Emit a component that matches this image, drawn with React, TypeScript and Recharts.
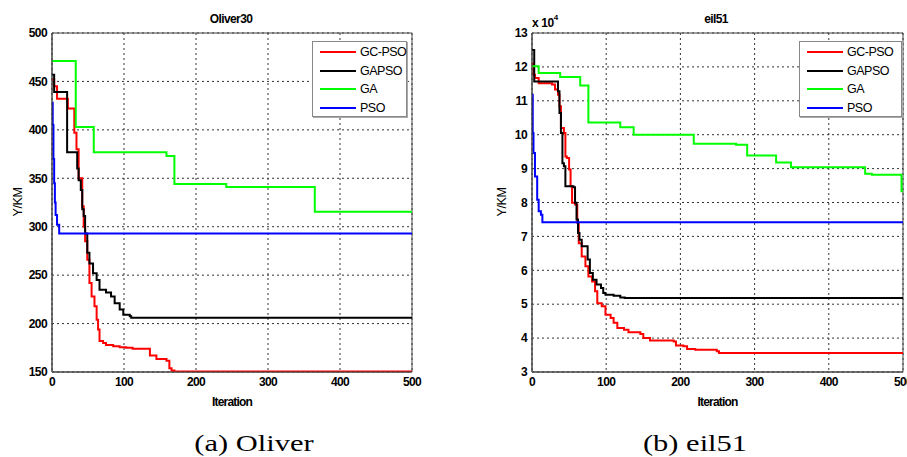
import {
  LineChart,
  Line,
  XAxis,
  YAxis,
  CartesianGrid,
  ReferenceArea,
  Legend,
  Label,
} from "recharts";

type Pt = [number, number];

// shared x axis (iterations)
const xTicks = [0, 100, 200, 300, 400, 500];

// (a) Oliver30, Y/KM
const oliverTicks = [150, 200, 250, 300, 350, 400, 450, 500];
const oliverGcPso: Pt[] = [
  [0, 452], [3, 445], [7, 432], [22, 422], [31, 397], [34, 380], [37, 350],
  [42, 321], [44, 300], [46, 285], [49, 266], [52, 242], [55, 228], [59, 218],
  [62, 204], [64, 194], [66, 182], [71, 180], [75, 178], [85, 176.5],
  [94, 175.5], [103, 175], [112, 174], [136, 167], [145, 163.5], [159, 161.7],
  [163, 154], [166, 151.5], [170, 150.5], [500, 150.5],
];
const oliverGapso: Pt[] = [
  [0, 457], [3, 439], [21, 377], [35, 360], [37, 348], [40, 338], [42, 318],
  [44, 311], [46, 293], [49, 273], [52, 262], [57, 252], [62, 245], [66, 235],
  [75, 232], [82, 228], [87, 221], [94, 214.5], [99, 209], [108, 207.5],
  [110, 206], [500, 206],
];
const oliverGa: Pt[] = [
  [0, 471], [33, 403], [58, 377], [159, 373], [170, 344], [242, 341],
  [365, 315.5], [500, 315.5],
];
const oliverPso: Pt[] = [
  [0, 428], [1, 405], [2, 370], [3, 345], [4, 325], [5, 312], [7, 302],
  [10, 293], [500, 293],
];

// (b) eil51, Y/KM in units of 10^4
const eilTicks = [3, 4, 5, 6, 7, 8, 9, 10, 11, 12, 13];
const eilGcPso: Pt[] = [
  [0, 12.1], [2, 11.77], [4, 11.67], [9, 11.52], [27, 11.48], [31, 11.33],
  [35, 11.18], [37, 10.84], [39, 10.2], [43, 10.05], [45, 9.36], [47, 9.31],
  [50, 8.97], [52, 8.48], [54, 7.99], [58, 7.94], [61, 7.4], [63, 6.8],
  [67, 6.41], [72, 6.12], [76, 5.82], [81, 5.67], [85, 5.38], [88, 5.03],
  [94, 4.94], [99, 4.69], [106, 4.59], [110, 4.45], [115, 4.3], [124, 4.25],
  [130, 4.17], [146, 4.12], [150, 4.0], [159, 3.93], [191, 3.9], [194, 3.78],
  [204, 3.76], [209, 3.68], [220, 3.66], [249, 3.61], [252, 3.56], [500, 3.56],
];
const eilGapso: Pt[] = [
  [0, 12.5], [3, 11.57], [35, 11.28], [37, 10.64], [39, 10.05], [41, 9.16],
  [43, 9.07], [45, 8.48], [56, 8.45], [58, 7.99], [60, 7.5], [62, 7.1],
  [64, 6.9], [67, 6.71], [75, 6.32], [78, 5.92], [82, 5.72], [87, 5.58],
  [93, 5.48], [96, 5.33], [99, 5.28], [110, 5.25], [119, 5.2], [125, 5.18],
  [500, 5.18],
];
const eilGa: Pt[] = [
  [0, 12.02], [9, 11.82], [38, 11.7], [65, 11.45], [76, 10.36], [119, 10.22],
  [137, 10.0], [218, 9.73], [275, 9.7], [290, 9.39], [329, 9.18], [349, 9.04],
  [449, 8.85], [458, 8.82], [498, 8.33], [500, 8.33],
];
const eilPso: Pt[] = [
  [0, 11.18], [1, 10.05], [2, 9.46], [4, 8.77], [7, 8.08], [9, 7.74],
  [12, 7.64], [14, 7.42], [500, 7.42],
];

const names = ["GC-PSO", "GAPSO", "GA", "PSO"];
const colors = ["#ff0000", "#000000", "#00ff00", "#0000ff"];

const SANS = '"Liberation Sans", Arial, sans-serif';
const tickStyle = {
  fontFamily: SANS,
  fontSize: 12,
  fontWeight: 700,
  letterSpacing: -0.6,
  fill: "#000",
};

const toRows = (pts: Pt[]) => pts.map(([x, y]) => ({ x, y }));

type LegendProps = { width: number; lineLen: number };

const LegendBox = ({ width, lineLen }: LegendProps) => (
  <div
    style={{
      width,
      height: 76,
      boxSizing: "border-box",
      border: "1px solid #888",
      boxShadow: "1px 1px 0 #aaa",
      background: "#fff",
      padding: "1px 0 0 7px",
      textAlign: "left",
    }}
  >
    {names.map((n, i) => (
      <div key={n} style={{ display: "flex", alignItems: "center", height: 18.5 }}>
        <div style={{ width: lineLen, height: 2, background: colors[i], marginRight: 4, flexShrink: 0 }} />
        <span
          style={{
            fontFamily: SANS,
            fontSize: 12.5,
            letterSpacing: -0.5,
            color: "#000",
            lineHeight: "18px",
            whiteSpace: "nowrap",
          }}
        >
          {n}
        </span>
      </div>
    ))}
  </div>
);

type PanelProps = {
  left: number;
  width: number;
  marginLeft: number;
  marginRight: number;
  yDomain: [number, number];
  yTicks: number[];
  series: Pt[][];
  legendLeft: number;
  legendWidth: number;
  yLabelX: number;
};

const Panel = (p: PanelProps) => (
  <div style={{ position: "absolute", left: p.left, top: 0 }}>
    <LineChart
      width={p.width}
      height={420}
      margin={{ top: 33, right: p.marginRight, left: p.marginLeft, bottom: 14 }}
    >
      <CartesianGrid
        stroke="#333"
        strokeDasharray="2 3"
        horizontalValues={p.yTicks}
        verticalValues={xTicks}
      />
      <XAxis
        type="number"
        dataKey="x"
        domain={[0, 500]}
        ticks={xTicks}
        allowDataOverflow
        height={34}
        tickSize={3}
        tickMargin={2}
        tickLine={false}
        axisLine={{ stroke: "#444" }}
        tick={tickStyle}
        interval={0}
      >
        <Label
          value="Iteration"
          position="insideBottom"
          offset={0}
          style={{ fontFamily: SANS, fontSize: 12, fontWeight: 700, letterSpacing: -0.8, fill: "#000" }}
        />
      </XAxis>
      <YAxis
        type="number"
        domain={p.yDomain}
        ticks={p.yTicks}
        allowDataOverflow
        width={40}
        tickSize={3}
        tickMargin={2}
        tickLine={false}
        axisLine={{ stroke: "#444" }}
        tick={tickStyle}
        interval={0}
        label={{
          content: () => (
            <text
              x={p.yLabelX}
              y={202}
              transform={`rotate(-90 ${p.yLabelX} 202)`}
              textAnchor="middle"
              dominantBaseline="central"
              style={{ fontFamily: SANS, fontSize: 12.5, letterSpacing: -0.4, fill: "#000" }}
            >
              Y/KM
            </text>
          ),
        }}
      />
      <ReferenceArea
        x1={0}
        x2={500}
        y1={p.yDomain[0]}
        y2={p.yDomain[1]}
        fill="none"
        stroke="#444"
        strokeWidth={1}
        fillOpacity={0}
      />
      {p.series.map((s, i) => (
        <Line
          key={names[i]}
          data={toRows(s)}
          dataKey="y"
          name={names[i]}
          type="stepAfter"
          stroke={colors[i]}
          strokeWidth={2}
          dot={false}
          isAnimationActive={false}
        />
      ))}
      <Legend
        layout="vertical"
        align="center"
        verticalAlign="middle"
        wrapperStyle={{ left: p.legendLeft, top: 41, width: p.legendWidth }}
        content={() => <LegendBox width={p.legendWidth} lineLen={36} />}
      />
    </LineChart>
  </div>
);

const titleStyle = {
  position: "absolute" as const,
  fontFamily: SANS,
  fontSize: 12,
  fontWeight: 700,
  letterSpacing: -0.6,
  color: "#000",
  whiteSpace: "nowrap" as const,
  transform: "translate(-50%, -50%)",
};

const captionStyle = {
  position: "absolute" as const,
  fontFamily: '"Liberation Serif", "Times New Roman", serif',
  fontSize: 24,
  color: "#000",
  whiteSpace: "nowrap" as const,
  transform: "translate(-50%, -50%) scaleX(1.27)",
};

export default function App() {
  return (
    <div
      style={{
        position: "absolute",
        left: 0,
        top: 0,
        width: 907,
        height: 457,
        background: "#fff",
        overflow: "hidden",
      }}
    >
      <Panel
        left={0}
        width={450}
        marginLeft={12}
        marginRight={38}
        yDomain={[150, 500]}
        yTicks={oliverTicks}
        series={[oliverGcPso, oliverGapso, oliverGa, oliverPso]}
        legendLeft={312}
        legendWidth={95}
        yLabelX={18}
      />
      <Panel
        left={450}
        width={457}
        marginLeft={42}
        marginRight={4}
        yDomain={[3, 13]}
        yTicks={eilTicks}
        series={[eilGcPso, eilGapso, eilGa, eilPso]}
        legendLeft={349}
        legendWidth={103}
        yLabelX={52}
      />
      <div style={{ ...titleStyle, left: 231, top: 19 }}>Oliver30</div>
      <div style={{ ...titleStyle, left: 716, top: 19 }}>eil51</div>
      <div
        style={{
          position: "absolute",
          left: 532,
          top: 16,
          fontFamily: SANS,
          fontSize: 12,
          fontWeight: 700,
          letterSpacing: -0.4,
          color: "#000",
          whiteSpace: "nowrap",
        }}
      >
        x 10<span style={{ position: "relative", top: -7, fontSize: 8 }}>4</span>
      </div>
      <div style={{ ...captionStyle, left: 254, top: 443 }}>(a) Oliver</div>
      <div style={{ ...captionStyle, left: 695, top: 443 }}>(b) eil51</div>
    </div>
  );
}
